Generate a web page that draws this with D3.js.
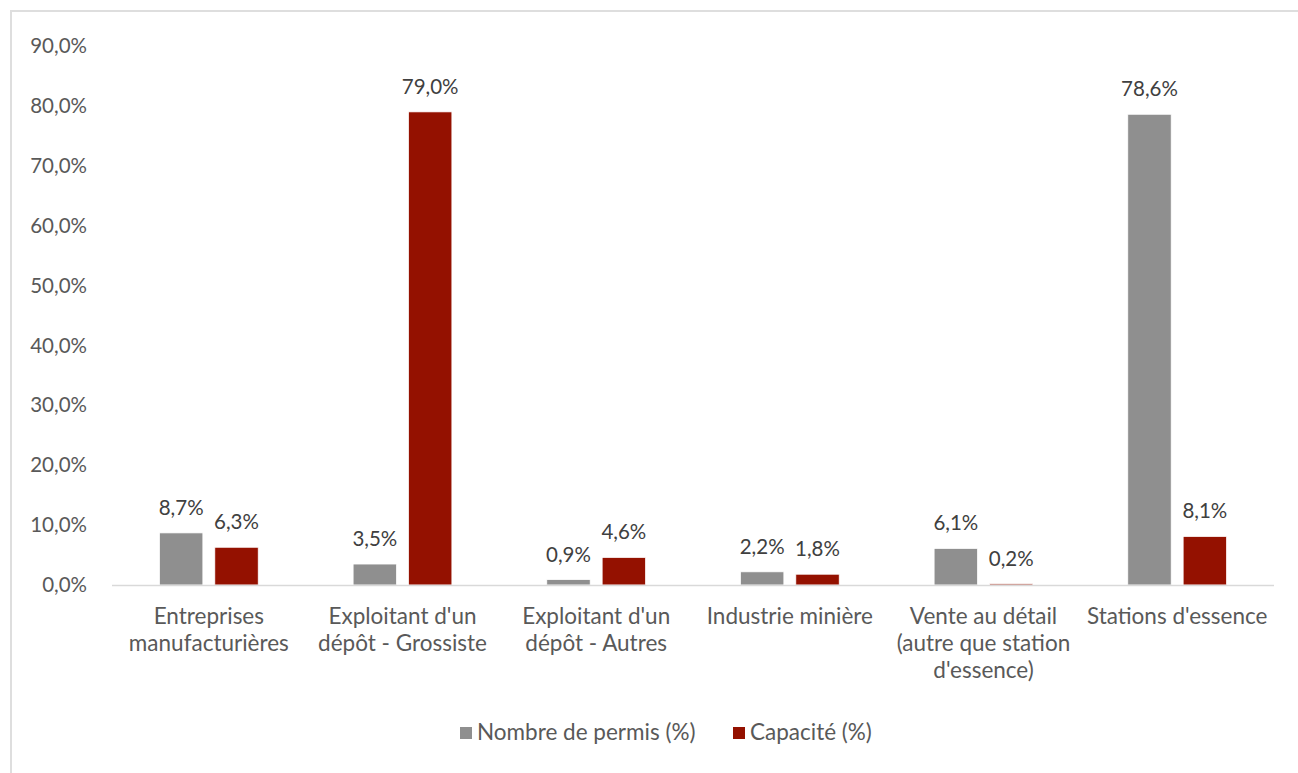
<!DOCTYPE html>
<html>
<head>
<meta charset="utf-8">
<script src="https://cdn.jsdelivr.net/npm/d3@7"></script>
<style>
  body { margin: 0; background: #fff; overflow: hidden; }
  svg text { font-family: Lato, "Open Sans", sans-serif; }
</style>
</head>
<body>
<svg id="chart" width="1298" height="773"></svg>
<script>
// categories (line breaks as in the original chart)
var categories = [
	"Entreprises\nmanufacturières",
	"Exploitant d'un\ndépôt - Grossiste",
	"Exploitant d'un\ndépôt - Autres",
	"Industrie minière",
	"Vente au détail\n(autre que station\nd'essence)",
	"Stations d'essence"
];
var seriesNames = ["Nombre de permis (%)", "Capacité (%)"];
var permis = [8.7, 3.5, 0.9, 2.2, 6.1, 78.6];
var capacite = [6.3, 79.0, 4.6, 1.8, 0.2, 8.1];
var yTicks = [0, 10, 20, 30, 40, 50, 60, 70, 80, 90];

var colors = ["#8f8f8f", "#941100"];
var fmt = function(v) { return v.toFixed(1).replace(".", ",") + "%"; };
var numSize = "20.5px", txtSize = "22.5px";

var svg = d3.select("#chart");

// outer border (only top and left are inside the picture)
svg.append("rect")
	.attr("x", 11).attr("y", 11)
	.attr("width", 1320).attr("height", 800)
	.attr("fill", "none")
	.attr("stroke", "#dedede")
	.attr("stroke-width", 2);

var margin = {left: 112, right: 24};
var x0 = d3.scaleBand()
	.domain(d3.range(categories.length))
	.range([margin.left, 1298 - margin.right])
	.paddingInner(0.49).paddingOuter(0.245);
var x1 = d3.scaleBand()
	.domain([0, 1])
	.range([0, x0.bandwidth()])
	.paddingInner(0.216);
var y = d3.scaleLinear()
	.domain([0, 90])
	.range([585, 46]);

// y axis labels
var yAxis = d3.axisLeft(y)
	.tickValues(yTicks)
	.tickSize(0)
	.tickPadding(0)
	.tickFormat(fmt);
var gy = svg.append("g")
	.attr("transform", "translate(87,0)")
	.call(yAxis);
gy.select(".domain").remove();
gy.selectAll("text")
	.attr("fill", "#595959")
	.attr("font-size", numSize);

// bars
var rows = categories.map(function(c, i) { return [permis[i], capacite[i]]; });
var groups = svg.append("g").selectAll("g.cat")
	.data(rows)
	.enter()
	.append("g")
	.attr("class", "cat")
	.attr("transform", function(d, i) { return "translate(" + x0(i) + ",0)"; });

groups.selectAll("rect")
	.data(function(d) { return d; })
	.enter()
	.append("rect")
	.attr("x", function(d, j) { return x1(j); })
	.attr("y", function(d) { return y(d); })
	.attr("width", x1.bandwidth())
	.attr("height", function(d) { return y(0) - y(d); })
	.attr("fill", function(d, j) { return colors[j]; })
	.attr("stroke", "#fff")
	.attr("stroke-width", 0.75);

groups.selectAll("text")
	.data(function(d) { return d; })
	.enter()
	.append("text")
	.attr("x", function(d, j) { return x1(j) + x1.bandwidth() / 2; })
	.attr("y", function(d) { return y(d) - 18; })
	.attr("text-anchor", "middle")
	.attr("font-size", numSize)
	.attr("fill", "#404040")
	.text(function(d) { return fmt(d); });

// x axis line
svg.append("line")
	.attr("x1", margin.left).attr("x2", 1298 - margin.right)
	.attr("y1", y(0) + 0.5).attr("y2", y(0) + 0.5)
	.attr("stroke", "#d9d9d9")
	.attr("stroke-width", 1.5);

// category labels
var catLabels = svg.append("g").selectAll("text")
	.data(categories)
	.enter()
	.append("text")
	.attr("text-anchor", "middle")
	.attr("font-size", txtSize)
	.attr("fill", "#595959")
	.attr("transform", function(d, i) { return "translate(" + (x0(i) + x0.bandwidth() / 2) + ",624)"; });
catLabels.selectAll("tspan")
	.data(function(d) { return d.split("\n"); })
	.enter()
	.append("tspan")
	.attr("x", 0)
	.attr("dy", function(d, i) { return i === 0 ? 0 : 27; })
	.text(function(d) { return d; });

// legend
var legend = svg.append("g");
var lx = [460, 733];
seriesNames.forEach(function(name, j) {
	legend.append("rect")
		.attr("x", lx[j]).attr("y", 727)
		.attr("width", 12).attr("height", 12)
		.attr("fill", colors[j]);
	legend.append("text")
		.attr("x", lx[j] + 17).attr("y", 740)
		.attr("font-size", txtSize)
		.attr("fill", "#595959")
		.text(name);
});
</script>
</body>
</html>
